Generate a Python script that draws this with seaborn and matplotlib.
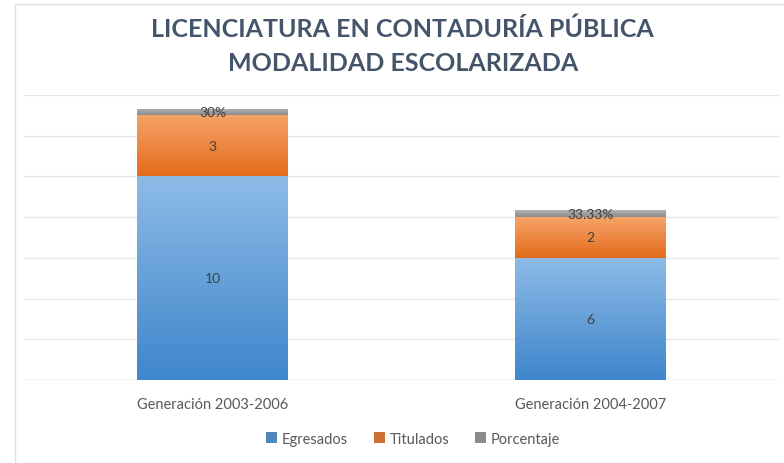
import numpy as np
import matplotlib
matplotlib.use("Agg")
import matplotlib.pyplot as plt
import seaborn as sns
from matplotlib.colors import LinearSegmentedColormap

# data
categorias = ["Generación 2003-2006", "Generación 2004-2007"]
egresados = [10, 6]
titulados = [3, 2]
porcentaje = [0.30, 0.3333]
etiquetas_pct = ["30%", "33.33%"]

sns.set_style("white")
plt.rcParams['font.family'] = ['Lato', 'DejaVu Sans']

fig = plt.figure(figsize=(7.84, 4.64), dpi=100)
ax = fig.add_axes([24 / 784, (464 - 381) / 464, 755 / 784, 285 / 464])

# colores del degradado (arriba claro, abajo oscuro)
grad = {
    "Egresados": ("#8dbbe6", "#3f86cc"),
    "Titulados": ("#f5a468", "#e56b1c"),
    "Porcentaje": ("#b4b4b4", "#8c8c8c"),
}

bottom1 = np.array(egresados, dtype=float)
bottom2 = bottom1 + np.array(titulados)

capas = [
    ("Egresados", egresados, 0),
    ("Titulados", titulados, bottom1),
    ("Porcentaje", porcentaje, bottom2),
]

for nombre, vals, base in capas:
    n_before = len(ax.patches)
    sns.barplot(x=categorias, y=vals, bottom=base, color=grad[nombre][1],
                width=0.4, ax=ax, label=nombre, linewidth=0, zorder=3)
    for p in ax.patches[n_before:]:
        x0, y0 = p.get_x(), p.get_y()
        w, h = p.get_width(), p.get_height()
        cmap = LinearSegmentedColormap.from_list(nombre, [grad[nombre][1], grad[nombre][0]])
        g = np.linspace(0, 1, 256).reshape(-1, 1)
        im = ax.imshow(g, cmap=cmap, aspect="auto", origin="lower",
                       extent=[x0, x0 + w, y0, y0 + h], zorder=3.5)
        im.set_clip_path(p)

if ax.get_legend() is not None:
    ax.get_legend().remove()

# etiquetas de datos
for i in range(len(categorias)):
    ax.text(i, egresados[i] / 2, str(egresados[i]), ha="center", va="center",
            fontsize=10, color="#404040", zorder=5)
    ax.text(i, bottom1[i] + titulados[i] / 2, str(titulados[i]), ha="center", va="center",
            fontsize=10, color="#404040", zorder=5)
    ax.text(i, bottom2[i] + porcentaje[i] / 2, etiquetas_pct[i], ha="center", va="center",
            fontsize=10, color="#404040", zorder=5)

ax.set_xlim(-0.5, 1.5)
ax.set_ylim(0, 14)
ax.set_yticks(np.arange(0, 15, 2))
ax.set_yticklabels([])
ax.tick_params(axis="y", length=0)
ax.tick_params(axis="x", length=0, labelsize=10.5, labelcolor="#595959", pad=12)
ax.grid(axis="y", color="#e6e6e6", linewidth=1, zorder=0)
ax.set_axisbelow(True)
for s in ax.spines.values():
    s.set_visible(False)
ax.axhline(0, color="#d9d9d9", linewidth=1, zorder=2)

fig.text(0.513, 0.936, "LICENCIATURA EN CONTADURÍA PÚBLICA", ha="center", va="center",
         fontsize=18, fontweight="bold", color="#44546a")
fig.text(0.514, 0.863, "MODALIDAD ESCOLARIZADA", ha="center", va="center",
         fontsize=18, fontweight="bold", color="#44546a")

handles, labels = ax.get_legend_handles_labels()
leg = fig.legend(handles, labels, loc="center", bbox_to_anchor=(0.527, 0.052), ncol=3,
                 frameon=False, fontsize=10.5, handlelength=0.75, handleheight=0.75,
                 handletextpad=0.3, columnspacing=1.8)
for t in leg.get_texts():
    t.set_color("#595959")

# marco del gráfico
fig.patches.append(plt.Rectangle((15 / 784, 0.0), 1, 0.99, transform=fig.transFigure,
                                 fill=False, edgecolor="#e0e0e0", linewidth=1))

fig.savefig("out.png", dpi=100)
